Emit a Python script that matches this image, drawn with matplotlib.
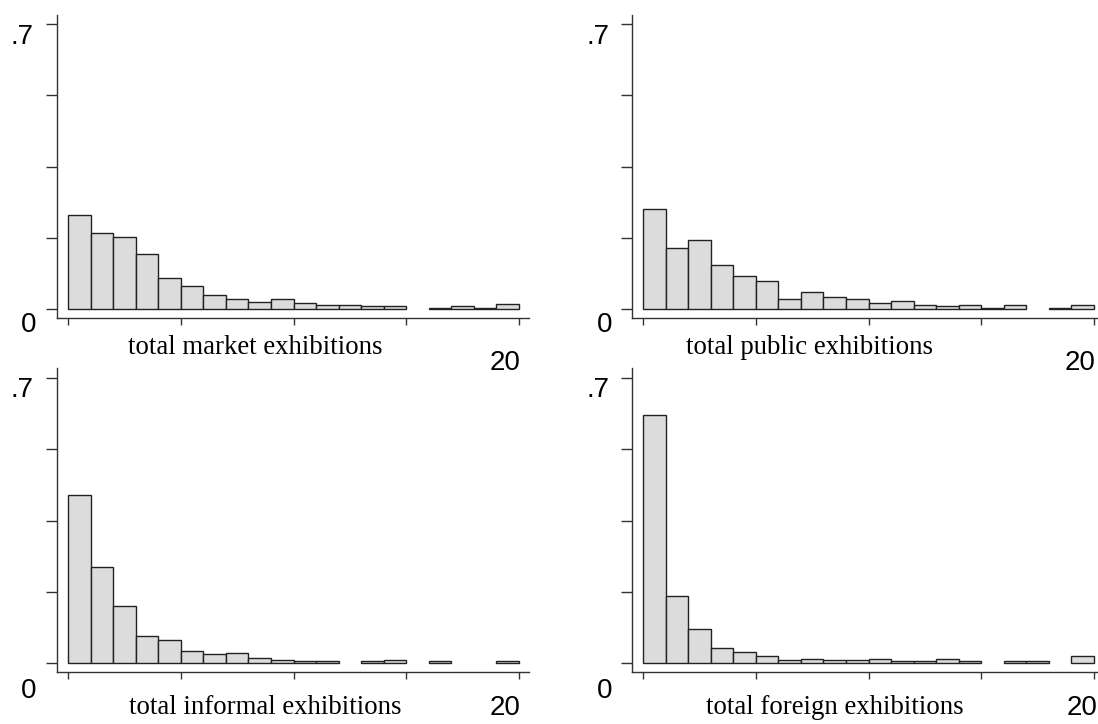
import numpy as np
import matplotlib

matplotlib.use("Agg")
import matplotlib.pyplot as plt

# bin heights (fraction) for bins [0,1), [1,2), ... [19,20)
MARKET = [0.230, 0.186, 0.177, 0.134, 0.076, 0.056, 0.034, 0.025, 0.017, 0.025,
          0.014, 0.010, 0.010, 0.008, 0.007, 0.0, 0.002, 0.007, 0.002, 0.013]
PUBLIC = [0.246, 0.151, 0.170, 0.107, 0.081, 0.070, 0.025, 0.041, 0.030, 0.025,
          0.014, 0.019, 0.010, 0.007, 0.011, 0.002, 0.010, 0.0, 0.002, 0.010]
INFORMAL = [0.413, 0.235, 0.141, 0.067, 0.056, 0.029, 0.021, 0.025, 0.013, 0.008,
            0.005, 0.005, 0.0, 0.005, 0.007, 0.0, 0.005, 0.0, 0.0, 0.005]
FOREIGN = [0.610, 0.165, 0.084, 0.038, 0.028, 0.016, 0.008, 0.011, 0.007, 0.007,
           0.011, 0.006, 0.006, 0.009, 0.006, 0.0, 0.004, 0.004, 0.0, 0.017]
BIN_EDGES = list(range(20))
X_TICKS = [0, 5, 10, 15, 20]
Y_TICKS = [0, 0.175, 0.35, 0.525, 0.7]

W, H = 1098, 724
PX_PER_UNIT = 22.55
Y_PX = 285.0

BAR_FILL = "#dcdcdc"
EDGE = "#222222"
NUM_FONT = ["Liberation Sans", "DejaVu Sans"]
LABEL_FONT = ["Liberation Serif", "DejaVu Serif"]

fig = plt.figure(figsize=(W / 100, H / 100), dpi=100, facecolor="white")


def px_text(x, y, s, family, size):
    fig.text(x / W, 1 - y / H, s, ha="center", va="center",
             fontsize=size, family=family, color="black")


def panel(left, top, right, bottom, values):
    ax = fig.add_axes([left / W, 1 - bottom / H, (right - left) / W, (bottom - top) / H])
    width_px = right - left
    height_px = bottom - top
    ax.set_xlim(-11 / PX_PER_UNIT, (width_px - 11) / PX_PER_UNIT)
    ax.set_ylim(-9 / Y_PX * 0.7, (height_px - 9) / Y_PX * 0.7)

    vals = np.array(values)
    edges = np.array(BIN_EDGES)
    keep = vals > 0
    ax.bar(edges[keep], vals[keep], width=1.0, align="edge",
           color=BAR_FILL, edgecolor=EDGE, linewidth=1.0, zorder=3)

    for side in ("top", "right"):
        ax.spines[side].set_visible(False)
    for side in ("left", "bottom"):
        ax.spines[side].set_color("#333333")
        ax.spines[side].set_linewidth(1.0)
    ax.set_xticks(X_TICKS)
    ax.set_yticks(Y_TICKS)
    ax.set_xticklabels([])
    ax.set_yticklabels([])
    ax.tick_params(axis="x", direction="out", length=5, width=1, color="#333333")
    ax.tick_params(axis="y", direction="out", length=8, width=1, color="#333333")
    ax.set_facecolor("none")
    return ax


panel(57, 15, 529, 318, MARKET)
panel(632, 15, 1104, 318, PUBLIC)
panel(57, 368, 529, 672, INFORMAL)
panel(632, 368, 1104, 672, FOREIGN)

# y labels
px_text(22, 37, ".7", NUM_FONT, 20)
px_text(598, 37, ".7", NUM_FONT, 20)
px_text(29, 325, "0", NUM_FONT, 20)
px_text(605, 325, "0", NUM_FONT, 20)
px_text(22, 390, ".7", NUM_FONT, 20)
px_text(598, 390, ".7", NUM_FONT, 20)
px_text(29, 691, "0", NUM_FONT, 20)
px_text(605, 691, "0", NUM_FONT, 20)

# x labels
px_text(505, 363, "20", NUM_FONT, 20)
px_text(1080, 363, "20", NUM_FONT, 20)
px_text(505, 708, "20", NUM_FONT, 20)
px_text(1082, 708, "20", NUM_FONT, 20)

px_text(255, 347, "total market exhibitions", LABEL_FONT, 19.3)
px_text(810, 347, "total public exhibitions", LABEL_FONT, 19.3)
px_text(265, 708, "total informal exhibitions", LABEL_FONT, 19.3)
px_text(835, 708, "total foreign exhibitions", LABEL_FONT, 19.3)

fig.savefig("out.png", dpi=100, facecolor="white")
